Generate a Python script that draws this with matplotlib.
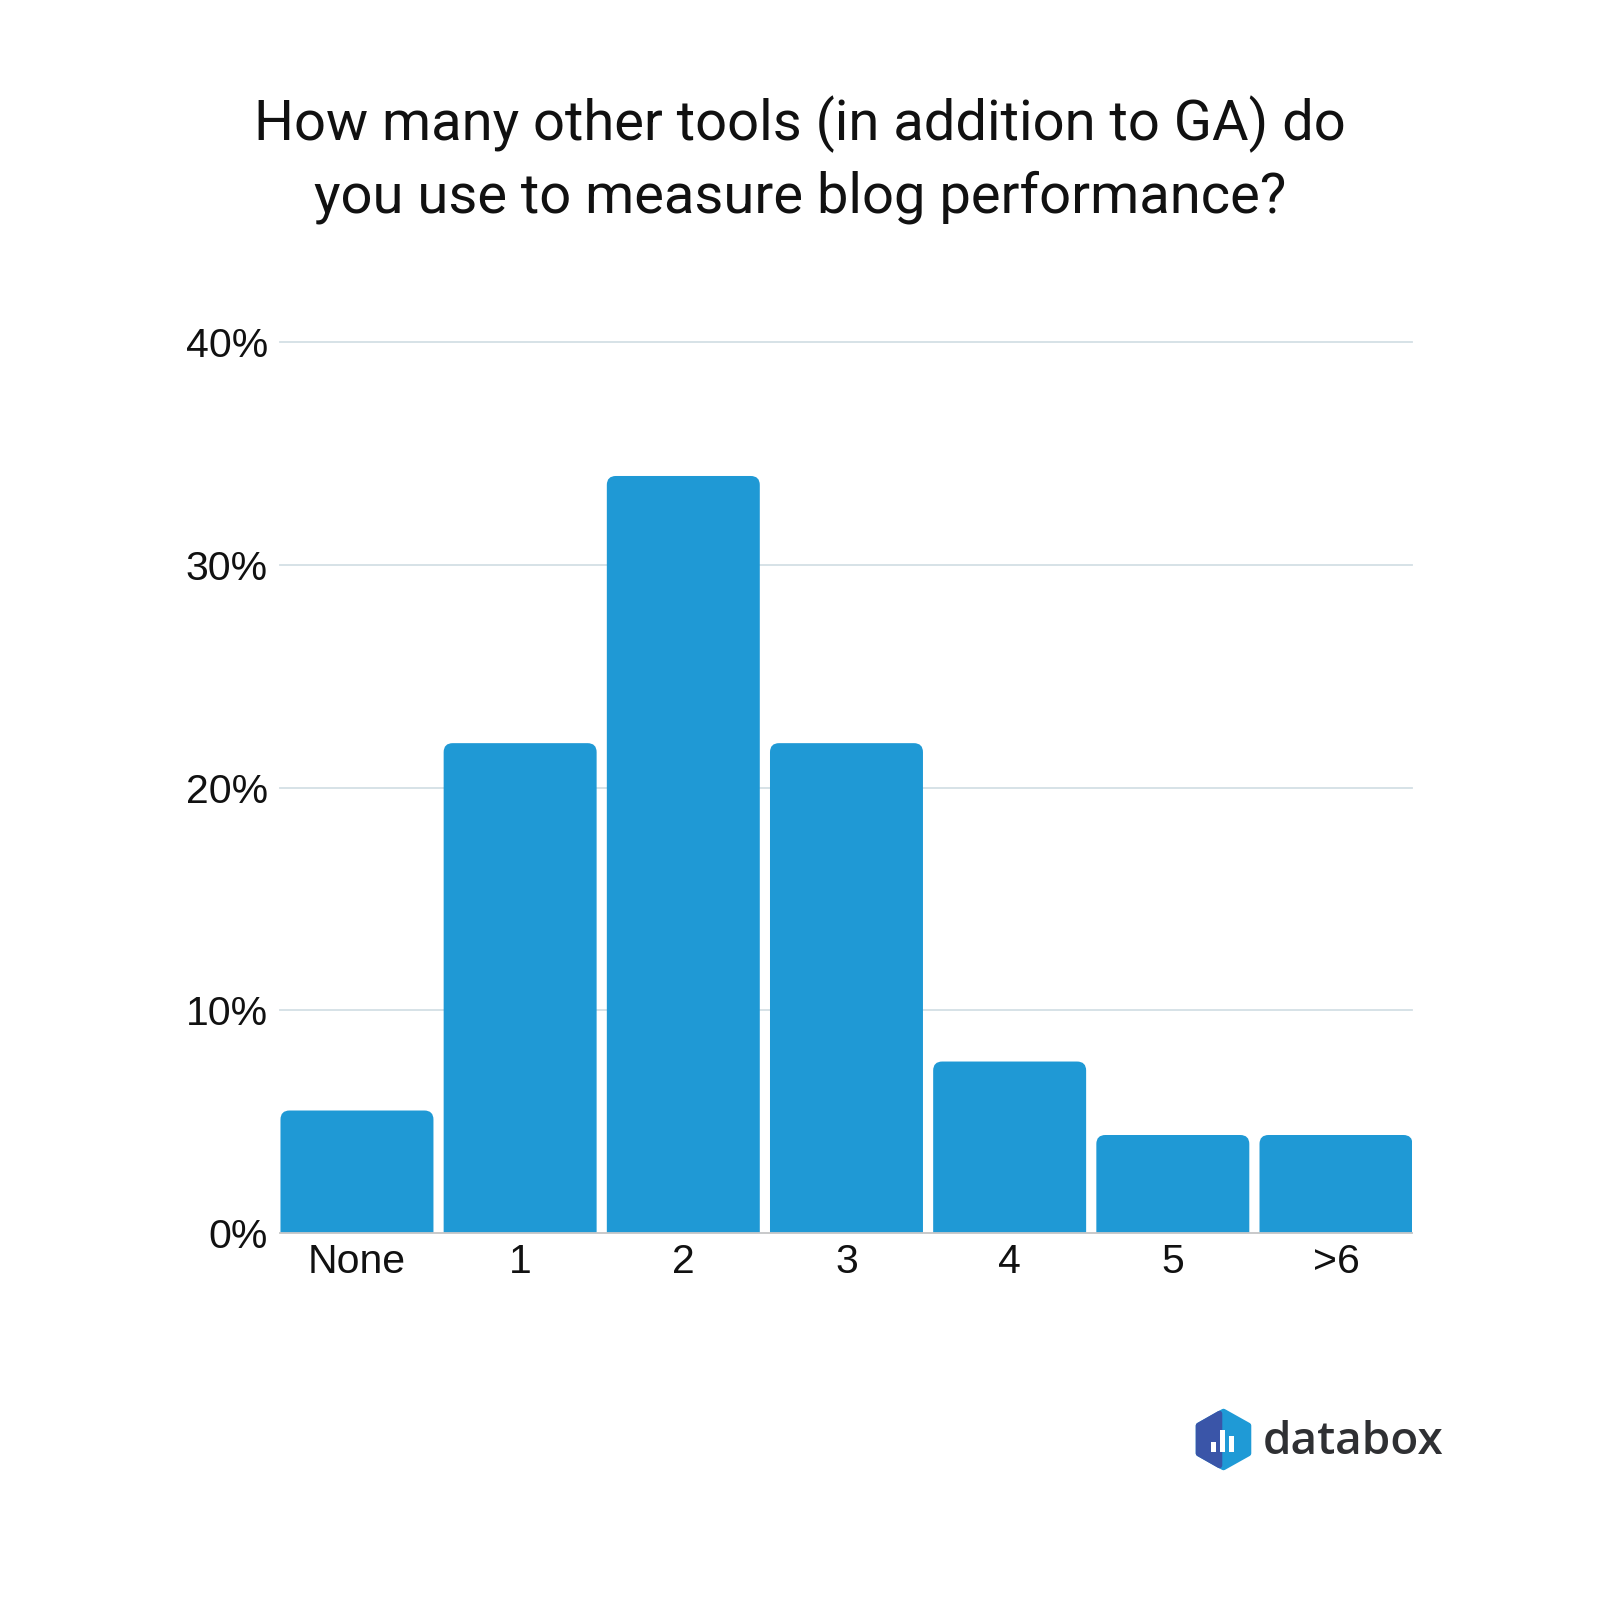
import matplotlib
matplotlib.use("Agg")
import matplotlib.pyplot as plt
from matplotlib.patches import PathPatch, Rectangle, Polygon
from matplotlib.path import Path

categories = ["None", "1", "2", "3", "4", "5", ">6"]
shares = [5.5, 22.0, 34.0, 22.0, 7.7, 4.4, 4.4]
yticks = [0, 10, 20, 30, 40]
ytick_labels = ["0%", "10%", "20%", "30%", "40%"]

TITLE = "How many other tools (in addition to GA) do\nyou use to measure blog performance?"
BAR = "#1f99d5"
BAR_W = 0.9375


def top_rounded(x0, w, h, rx, ry):
    """bar outline with only the two top corners rounded"""
    x1 = x0 + w
    verts = [(x0, 0), (x0, h - ry), (x0, h), (x0 + rx, h),
             (x1 - rx, h), (x1, h), (x1, h - ry), (x1, 0), (x0, 0)]
    codes = [Path.MOVETO, Path.LINETO, Path.CURVE3, Path.CURVE3,
             Path.LINETO, Path.CURVE3, Path.CURVE3, Path.LINETO, Path.CLOSEPOLY]
    return Path(verts, codes)


fig = plt.figure(figsize=(16, 16), dpi=100)
ax = fig.add_axes([0.1753, 0.2294, 0.7075, 0.5566])

x = list(range(len(categories)))
bars = ax.bar(x, shares, width=BAR_W, color=BAR, zorder=3)

px_x = 7 * BAR_W / 1132 * (1 / BAR_W)  # data x per pixel
px_y = 40.0 / 891.0                     # data y per pixel
for b in bars:
    b.set_visible(False)
    ax.add_patch(PathPatch(top_rounded(b.get_x(), b.get_width(), b.get_height(),
                                       9 * px_x, 9 * px_y),
                           fc=BAR, ec="none", zorder=3))

ax.set_xlim(-BAR_W / 2, len(categories) - 1 + BAR_W / 2)
ax.set_ylim(0, 40)
ax.set_yticks(yticks)
ax.set_yticklabels(ytick_labels)
ax.set_xticks(x)
ax.set_xticklabels(categories)
ax.tick_params(length=0, labelsize=29.5, colors="#111111")
ax.tick_params(axis="y", pad=9)
ax.tick_params(axis="x", pad=7)
for lab in ax.get_xticklabels() + ax.get_yticklabels():
    lab.set_family("Liberation Sans")

ax.grid(axis="y", color="#d3dfe5", linewidth=1.3, zorder=0)
for gl in ax.get_ygridlines():
    gl.set_clip_on(False)
for s in ["top", "right", "left"]:
    ax.spines[s].set_visible(False)
ax.spines["bottom"].set_color("#c8c8c8")
ax.spines["bottom"].set_linewidth(1.3)
ax.spines["bottom"].set_zorder(4)

fig.text(0.5, 0.9, TITLE, ha="center", va="center", fontsize=40.4,
         family="Roboto", color="#111111", linespacing=1.42)

# databox logo
lax = fig.add_axes([0, 0, 1, 1], zorder=-1)
lax.set_xlim(0, 1600)
lax.set_ylim(1600, 0)
lax.axis("off")
cx, cy, w, h = 1223.5, 1439.5, 25, 28
hexpts = [(cx, cy - h), (cx + w, cy - h / 2), (cx + w, cy + h / 2),
          (cx, cy + h), (cx - w, cy + h / 2), (cx - w, cy - h / 2)]
lax.add_patch(Polygon(hexpts, closed=True, fc="#1f9ad6", ec="#1f9ad6",
                      lw=4, joinstyle="round"))
lax.add_patch(Polygon([(cx - w, cy - h / 2), (cx - 4, cy - h + 2), (cx - 4, cy + h - 2),
                       (cx - w, cy + h / 2)], closed=True, fc="#3a55a8",
                      ec="#3a55a8", lw=4, joinstyle="round"))
for bxl, by0, bh in [(1211, 1452, 10), (1220, 1452, 22), (1229, 1452, 16)]:
    lax.add_patch(Rectangle((bxl, by0 - bh), 5, bh, fc="white", ec="none"))
lax.text(1263, 1454, "databox", fontsize=33, family="Open Sans", weight="semibold",
         color="#2f3033", ha="left", va="baseline")

fig.savefig("out.png", dpi=100, facecolor="white")
